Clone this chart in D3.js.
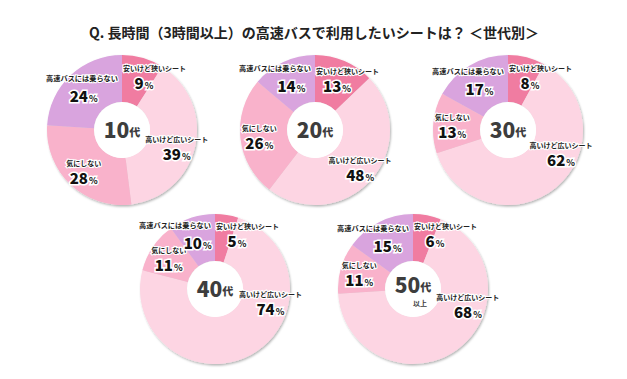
<!DOCTYPE html>
<html>
<head>
<meta charset="utf-8">
<script src="https://cdn.jsdelivr.net/npm/d3@7"></script>
<style>
  body { margin: 0; background: #fff; }
  text { font-family: "Noto Sans CJK JP", "Noto Sans", sans-serif; }
</style>
</head>
<body>
<div id="chart"></div>
<script>
// data
var ages = ["10", "20", "30", "40", "50"];
var choices = ["安いけど狭いシート", "高いけど広いシート", "気にしない", "高速バスには乗らない"];
var cheapNarrow = [9, 13, 8, 5, 6];
var pricyWide   = [39, 48, 62, 74, 68];
var dontCare    = [28, 26, 13, 11, 11];
var noBus       = [24, 14, 17, 10, 15];
var colors = ["#f07ba1", "#fdd5e3", "#f9b2cb", "#d9a4de"];

var width = 627, height = 379;

var svg = d3.select("#chart")
  .append("svg")
    .attr("width", width)
    .attr("height", height);

var defs = svg.append("defs");
defs.append("filter").attr("id", "shadow")
    .attr("x", "-20%").attr("y", "-20%").attr("width", "140%").attr("height", "140%")
  .append("feDropShadow")
    .attr("dx", 1).attr("dy", 1.5).attr("stdDeviation", 1.2)
    .attr("flood-color", "#000").attr("flood-opacity", 0.3);

// title
svg.append("text")
  .attr("x", 314).attr("y", 38)
  .attr("text-anchor", "middle")
  .style("font-size", "14px")
  .style("font-weight", "bold")
  .attr("fill", "#222")
  .text("Q. 長時間（3時間以上）の高速バスで利用したいシートは？ ＜世代別＞");

// layout: 3 donuts on top row, 2 on bottom
var xTop = d3.scalePoint().domain(ages.slice(0, 3)).range([122, 508]);
var xBot = d3.scalePoint().domain(ages.slice(3)).range([215, 413]);
var yRow = d3.scalePoint().domain(["top", "bot"]).range([130, 289]);

var outerR = 75, innerR = 28, labelR = 56;

var pie = d3.pie().sort(null).value(function(d) { return d.value; });
var arc = d3.arc().innerRadius(innerR).outerRadius(outerR);

var tau = 2 * Math.PI;

// where a slice's label sits (big slice kept near its start so it stays on the right)
function labelPos(d) {
  var a = (d.startAngle + d.endAngle) / 2;
  a = Math.min(a, d.startAngle + tau * 80 / 360);
  return [labelR * Math.sin(a), -labelR * Math.cos(a)];
}

ages.forEach(function(age, i) {
  var top = i < 3;
  var cx = top ? xTop(age) : xBot(age);
  var cy = yRow(top ? "top" : "bot");
  var vals = [cheapNarrow[i], pricyWide[i], dontCare[i], noBus[i]];
  var data = vals.map(function(v, k) { return {name: choices[k], value: v, k: k}; });
  var n = data.length;

  var g = svg.append("g").attr("transform", "translate(" + cx + "," + cy + ")");

  g.append("g").attr("filter", "url(#shadow)")
    .selectAll("path")
    .data(pie(data))
    .enter()
    .append("path")
      .attr("d", arc)
      .attr("fill", function(d) { return colors[d.data.k]; });

  // inner hole
  g.append("circle").attr("r", innerR).attr("fill", "#fff");

  // center label
  var c = g.append("text")
    .attr("text-anchor", "middle")
    .attr("y", age === "50" ? 4 : 8)
    .attr("fill", "#3d3d3d")
    .style("font-weight", "900")
    .style("font-size", "21px");
  c.append("tspan").text(age);
  c.append("tspan").style("font-size", "11px").attr("dy", -1).text("代");
  if (age === "50") {
    g.append("text")
      .attr("x", 7).attr("y", 17)
      .attr("text-anchor", "middle")
      .attr("fill", "#3d3d3d")
      .style("font-weight", "bold")
      .style("font-size", "7px")
      .text("以上");
  }

  // slice labels
  var lab = g.selectAll("g.lab")
    .data(pie(data))
    .enter()
    .append("g")
      .attr("class", "lab")
      .attr("transform", function(d) {
        var p = labelPos(d);
        return "translate(0," + p[1] + ")";
      });

  lab.append("text")
    .attr("x", function(d) {
      var x = labelPos(d)[0];
      if (d.data.k === 0) return 1;          // first slice starts at 12 o'clock
      if (d.data.k === n - 1) return -4;     // last slice ends at 12 o'clock
      return x;
    })
    .attr("text-anchor", function(d) {
      if (d.data.k === 0) return "start";
      if (d.data.k === n - 1) return "end";
      return "middle";
    })
    .attr("y", function(d) {
      if (d.data.k === 1) return 0;
      if (d.data.k === n - 1) return -8;
      return -5;
    })
    .attr("fill", "#222")
    .attr("stroke", "#fff")
    .attr("stroke-width", 2.2)
    .attr("paint-order", "stroke")
    .style("font-size", function(d) { return d.data.k === 3 ? "7.2px" : "7px"; })
    .style("font-weight", "bold")
    .text(function(d) { return d.data.name; });

  var p = lab.append("text")
    .attr("x", function(d) {
      var x = labelPos(d)[0];
      if (d.data.k === 0) return Math.max(x, 22);
      return x;
    })
    .attr("text-anchor", "middle")
    .attr("y", function(d) { return d.data.k === 1 ? 18 : 13; })
    .attr("fill", "#111")
    .attr("stroke", "#fff")
    .attr("stroke-width", 3)
    .attr("paint-order", "stroke")
    .style("font-weight", "900")
    .style("font-size", "15px");
  p.append("tspan").text(function(d) { return d.data.value; });
  p.append("tspan").style("font-size", "9px").style("font-weight", "bold").attr("dx", 1).text("%");
});
</script>
</body>
</html>
